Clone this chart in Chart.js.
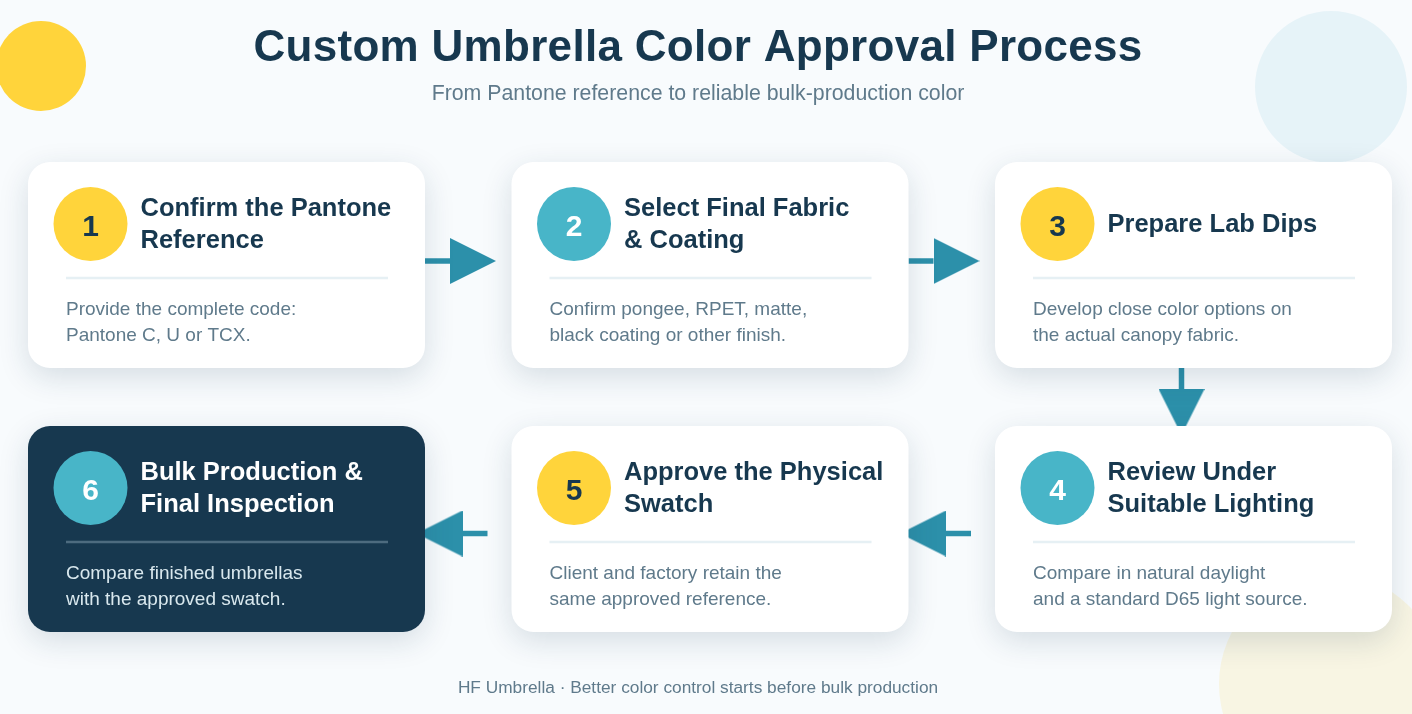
<!DOCTYPE html>
<html>
<head>
<meta charset="utf-8">
<title>Custom Umbrella Color Approval Process</title>
<script src="https://cdn.jsdelivr.net/npm/chart.js@4"></script>
<style>
  html, body { margin: 0; padding: 0; background: #f8fbfd; }
  #wrap { width: 1412px; height: 714px; }
  canvas { display: block; }
</style>
</head>
<body>
<div id="wrap"><canvas id="flow"></canvas></div>
<script>
// ============================================================
// DATA
// ============================================================

const chartTitle = "Custom Umbrella Color Approval Process";
const chartSubtitle = "From Pantone reference to reliable bulk-production color";
const chartFooter = "HF Umbrella · Better color control starts before bulk production";

const stepNumbers = ["1", "2", "3", "4", "5", "6"];
const stepTitles = [
  ["Confirm the Pantone", "Reference"],
  ["Select Final Fabric", "& Coating"],
  ["Prepare Lab Dips"],
  ["Review Under", "Suitable Lighting"],
  ["Approve the Physical", "Swatch"],
  ["Bulk Production &", "Final Inspection"]
];
const stepBodies = [
  ["Provide the complete code:", "Pantone C, U or TCX."],
  ["Confirm pongee, RPET, matte,", "black coating or other finish."],
  ["Develop close color options on", "the actual canopy fabric."],
  ["Compare in natural daylight", "and a standard D65 light source."],
  ["Client and factory retain the", "same approved reference."],
  ["Compare finished umbrellas", "with the approved swatch."]
];

// which slot of the 3x2 grid each step sits in
const stepColumns = [0, 1, 2, 2, 1, 0];
const stepRows = [0, 0, 0, 1, 1, 1];

// arrows go from step index to step index
const arrowFrom = [0, 1, 2, 3, 4];
const arrowTo = [1, 2, 3, 4, 5];


// ============================================================
// LAYOUT + COLORS
// ============================================================

const NAVY = "#17384f";
const TEAL = "#48b5c8";
const YELLOW = "#ffd43b";
const ARROW = "#2c90aa";
const GREY_TEXT = "#5f7a8b";
const FONT = '"Liberation Sans", Arial, sans-serif';

const CARD_W = 397, CARD_H = 206, COL_GAP = 483.5, ROW_GAP = 264;
const cardLeft = (i) => 28 + stepColumns[i] * COL_GAP;
const cardTop = (i) => 162 + stepRows[i] * ROW_GAP;
const isDark = (i) => i === 5;
const isYellowBadge = (i) => i % 2 === 0 && i !== 5;

const HEAD = 46, SHAFT = 5.5, SHAFT_LEN = 25;

// arrow head sprite, pointing up, gets rotated per point
function makeHead() {
  const c = document.createElement("canvas");
  c.width = HEAD;
  c.height = HEAD;
  const g = c.getContext("2d");
  g.fillStyle = ARROW;
  g.beginPath();
  g.moveTo(HEAD / 2, 0);
  g.lineTo(HEAD, HEAD);
  g.lineTo(0, HEAD);
  g.closePath();
  g.fill();
  return c;
}
const headSprite = makeHead();

// shaft start, shaft end, head center and rotation for each arrow
function arrowGeometry(k) {
  const a = arrowFrom[k], b = arrowTo[k];
  if (stepRows[a] !== stepRows[b]) {
    const x = cardLeft(a) + 186.5;
    const y0 = cardTop(a) + CARD_H;
    return { x0: x, y0, x1: x, y1: y0 + 21, hx: x, hy: y0 + 21 + HEAD / 2, rot: 180 };
  }
  const y = cardTop(a) + (stepRows[a] === 0 ? 99 : 107.5);
  if (stepColumns[b] > stepColumns[a]) {
    const x0 = cardLeft(a) + CARD_W;
    return { x0, y0: y, x1: x0 + SHAFT_LEN, y1: y, hx: x0 + SHAFT_LEN + HEAD / 2, hy: y, rot: 90 };
  }
  // going left the shaft floats clear of the source card
  const x0 = cardLeft(a) - 24;
  const x1 = x0 - SHAFT_LEN;
  return { x0, y0: y, x1, y1: y, hx: x1 - HEAD / 2, hy: y, rot: -90 };
}


// ============================================================
// DATASETS
// ============================================================

const datasets = [];

// soft background circles
datasets.push({
  type: "scatter", order: 20,
  data: [{ x: 41, y: 66 }, { x: 1331, y: 87 }, { x: 1330, y: 684 }],
  pointRadius: [45, 76, 111],
  pointBackgroundColor: [YELLOW, "#e6f3f8", "#f8f5e3"],
  pointBorderWidth: 0
});

// arrow shafts
arrowFrom.forEach((_, k) => {
  const g = arrowGeometry(k);
  datasets.push({
    type: "line", order: 12,
    data: [{ x: g.x0, y: g.y0 }, { x: g.x1, y: g.y1 }],
    borderColor: ARROW, borderWidth: SHAFT,
    pointRadius: 0, borderCapStyle: "butt"
  });
});

// arrow heads
datasets.push({
  type: "scatter", order: 11,
  data: arrowFrom.map((_, k) => { const g = arrowGeometry(k); return { x: g.hx, y: g.hy }; }),
  pointStyle: headSprite,
  pointRadius: HEAD / 2,
  pointRotation: arrowFrom.map((_, k) => arrowGeometry(k).rot)
});

// cards
datasets.push({
  type: "bar", order: 8, label: "cards",
  data: stepNumbers.map((_, i) => ({ x: cardLeft(i) + CARD_W / 2, y: [cardTop(i), cardTop(i) + CARD_H] })),
  backgroundColor: stepNumbers.map((_, i) => isDark(i) ? NAVY : "#ffffff"),
  barThickness: CARD_W,
  borderRadius: 22,
  borderSkipped: false,
  borderWidth: 0,
  inflateAmount: 0
});

// card dividers
stepNumbers.forEach((_, i) => {
  const y = cardTop(i) + 116;
  datasets.push({
    type: "line", order: 5,
    data: [{ x: cardLeft(i) + 38, y }, { x: cardLeft(i) + 360, y }],
    borderColor: isDark(i) ? "#4d6b7f" : "#e6f0f4",
    borderWidth: 2.5, pointRadius: 0
  });
});

// number badges
datasets.push({
  type: "scatter", order: 3,
  data: stepNumbers.map((_, i) => ({ x: cardLeft(i) + 62.5, y: cardTop(i) + 62 })),
  pointRadius: 37,
  pointBackgroundColor: stepNumbers.map((_, i) => isYellowBadge(i) ? YELLOW : TEAL),
  pointBorderWidth: 0
});


// ============================================================
// PLUGINS
// ============================================================

const cardShadow = {
  id: "cardShadow",
  beforeDatasetDraw(chart, args) {
    if (chart.data.datasets[args.index].label !== "cards") return;
    const ctx = chart.ctx;
    ctx.save();
    ctx.shadowColor = "rgba(23,56,79,0.15)";
    ctx.shadowBlur = 30;
    ctx.shadowOffsetY = 9;
  },
  afterDatasetDraw(chart, args) {
    if (chart.data.datasets[args.index].label !== "cards") return;
    chart.ctx.restore();
  }
};

function putText(chart, text, x, y, font, color, align, spacing) {
  const ctx = chart.ctx;
  ctx.font = font;
  ctx.fillStyle = color;
  ctx.textAlign = align || "left";
  ctx.textBaseline = "alphabetic";
  ctx.letterSpacing = spacing || "0px";
  ctx.fillText(text, chart.scales.x.getPixelForValue(x), chart.scales.y.getPixelForValue(y));
}

const flowText = {
  id: "flowText",
  afterDatasetsDraw(chart) {
    const ctx = chart.ctx;
    ctx.save();
    putText(chart, chartTitle, 698, 61, "bold 44px " + FONT, NAVY, "center", "0.3px");
    putText(chart, chartSubtitle, 698, 100, "21.3px " + FONT, GREY_TEXT, "center");
    putText(chart, chartFooter, 698, 693, "17.3px " + FONT, GREY_TEXT, "center");

    stepNumbers.forEach((n, i) => {
      const left = cardLeft(i), top = cardTop(i);
      putText(chart, n, left + 62.5, top + 73.5, "bold 30px " + FONT, isYellowBadge(i) ? NAVY : "#ffffff", "center");
      const lines = stepTitles[i];
      const first = lines.length === 1 ? 70 : 54;
      lines.forEach((t, j) => {
        putText(chart, t, left + 112.5, top + first + j * 32, "bold 25.5px " + FONT, isDark(i) ? "#ffffff" : NAVY);
      });
      stepBodies[i].forEach((t, j) => {
        putText(chart, t, left + 38, top + 153 + j * 26, "19px " + FONT, isDark(i) ? "#d9e8ee" : GREY_TEXT);
      });
    });
    ctx.restore();
  }
};


// ============================================================
// CHART
// ============================================================

new Chart(document.getElementById("flow").getContext("2d"), {
  data: { datasets },
  options: {
    responsive: true,
    maintainAspectRatio: false,
    animation: false,
    events: [],
    layout: { padding: 0, autoPadding: false },
    scales: {
      x: { type: "linear", min: 0, max: 1412, offset: false, display: false },
      y: { type: "linear", min: 0, max: 714, reverse: true, offset: false, display: false }
    },
    plugins: { legend: { display: false }, tooltip: { enabled: false }, title: { display: false } }
  },
  plugins: [cardShadow, flowText]
});
</script>
</body>
</html>
